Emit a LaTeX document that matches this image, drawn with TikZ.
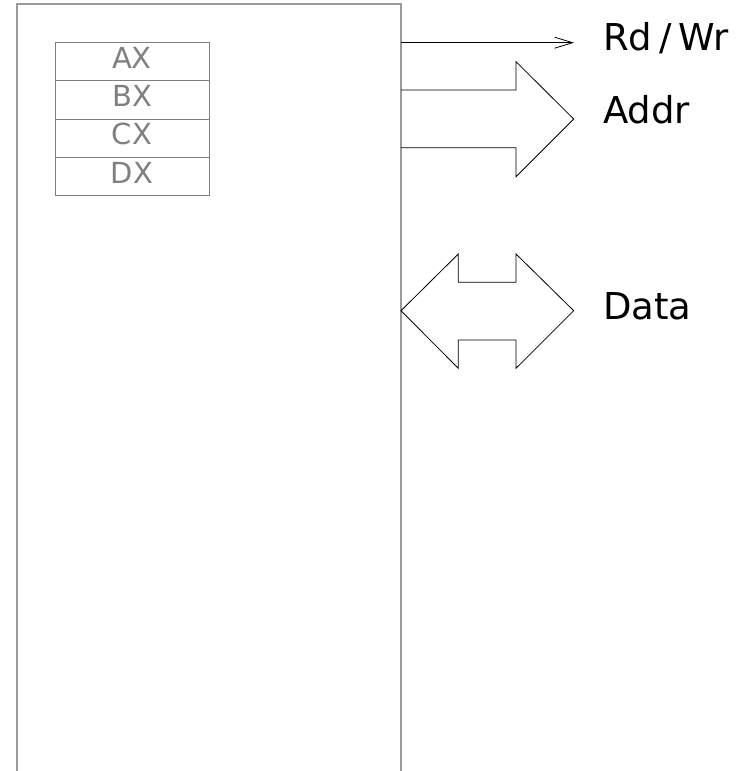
\documentclass[tikz,border=0pt]{standalone}
\usepackage{fontspec}
\setmainfont{DejaVu Sans}
\usetikzlibrary{arrows.meta}
\definecolor{boxgray}{HTML}{9A9A9A}
\definecolor{reggray}{HTML}{808080}
\tikzset{
  regbox/.style={draw=reggray, line width=0.9pt, minimum width=154pt, minimum height=38.4pt,
    inner sep=0pt, outer sep=0pt},
  regtext/.style={text=reggray, font=\fontsize{29}{29}\selectfont, anchor=base, inner sep=0pt},
  sigtext/.style={text=black, font=\fontsize{37}{37}\selectfont, anchor=base west, inner sep=0pt},
  busline/.style={draw=black, line width=0.8pt, line join=miter},
}
\begin{document}
\begin{tikzpicture}[x=1pt, y=-1pt]
  \useasboundingbox (0,0) rectangle (739,771);
  % processor outline (runs off the bottom)
  \coordinate (cpuBL) at (17,771);
  \coordinate (cpuTL) at (17,4);
  \coordinate (cpuTR) at (401,4);
  \coordinate (cpuBR) at (401,771);
  \draw[boxgray, line width=1.3pt] (cpuBL) -- (cpuTL) -- (cpuTR) -- (cpuBR);

  % register file
  \node[regbox] (ax) at (132,61.5) {};
  \node[regbox] (bx) at (132,99.9) {};
  \node[regbox] (cx) at (132,138.3) {};
  \node[regbox] (dx) at (132,176.7) {};
  \node[regtext] (axt) at (132,68) {AX};
  \node[regtext] (bxt) at (132,106) {BX};
  \node[regtext] (cxt) at (132,144.5) {CX};
  \node[regtext] (dxt) at (132,183) {DX};

  % Rd/Wr control line
  \coordinate (rwA) at (401,42.7);
  \coordinate (rwB) at (574,42.7);
  \draw[busline, -{Straight Barb[length=18pt, width=11pt, line width=0.8pt]}] (rwA) -- (rwB);
  \node[sigtext] (rw) at (603,50) {Rd\kern7pt/\kern7pt Wr};

  % address bus (outgoing)
  \draw[busline] (401,90) -- (516,90) -- (516,61.7) -- (573.7,119)
    -- (516,176.7) -- (516,147.7) -- (401,147.7);
  \node[sigtext] (addr) at (603,123.3) {Addr};

  % data bus (bidirectional)
  \draw[busline] (401,310.7) -- (458.3,254) -- (458.3,282.3) -- (516,282.3) -- (516,254)
    -- (573.7,310.7) -- (516,368.3) -- (516,340) -- (458.3,340) -- (458.3,368.3) -- cycle;
  \node[sigtext] (data) at (603,319) {Data};
\end{tikzpicture}
\end{document}
